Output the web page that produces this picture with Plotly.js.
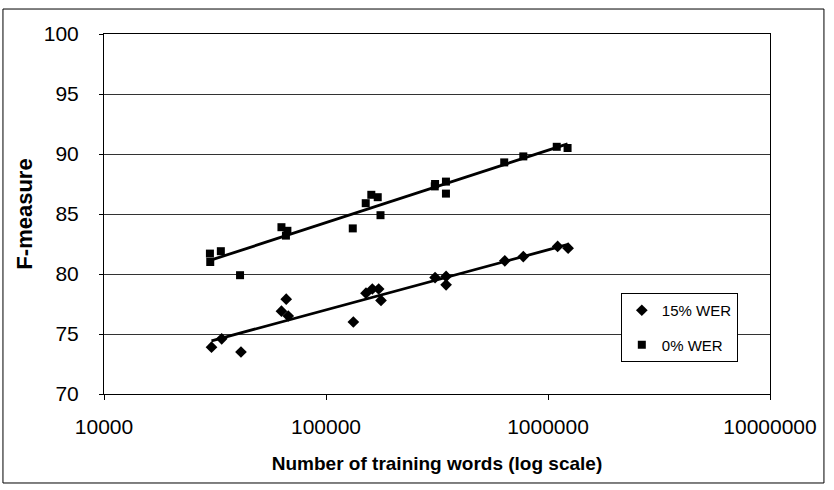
<!DOCTYPE html>
<html>
<head>
<meta charset="utf-8">
<script src="https://cdn.plot.ly/plotly-3.0.1.min.js"></script>
<style>html,body{margin:0;padding:0;background:#fff;}#chart{width:834px;height:490px;}</style>
</head>
<body>
<div id="chart"></div>
<script>
// 15% WER (diamonds)
const wer15Words = [30500, 33900, 41400, 63000, 66200, 67600, 132800, 151400, 161700, 172700, 176900, 310000, 347500, 347500, 639000, 774000, 1105000, 1232000];
const wer15F     = [73.9, 74.6, 73.5, 76.9, 77.9, 76.5, 76.0, 78.4, 78.75, 78.75, 77.8, 79.7, 79.8, 79.1, 81.1, 81.45, 82.3, 82.15];
// 0% WER (squares)
const wer0Words = [30000, 30100, 33600, 41000, 63000, 67000, 66000, 132000, 151000, 160000, 171000, 176000, 310000, 309000, 347000, 347000, 635000, 774000, 1095000, 1225000];
const wer0F     = [81.7, 81.0, 81.9, 79.9, 83.9, 83.6, 83.2, 83.8, 85.9, 86.6, 86.4, 84.9, 87.5, 87.3, 87.7, 86.7, 89.3, 89.8, 90.6, 90.5];

const seriesNames = ["15% WER", "0% WER"];
const yTicks = [70, 75, 80, 85, 90, 95, 100];
const xTicks = [10000, 100000, 1000000, 10000000];
const xTickText = ["10000", "100000", "1000000", "10000000"];

// logarithmic trendline (least squares on log10 x), like Excel
function trend(xs, ys) {
  const lx = xs.map(v => Math.log10(v));
  const n = lx.length;
  const mx = lx.reduce((a, b) => a + b, 0) / n;
  const my = ys.reduce((a, b) => a + b, 0) / n;
  let sxy = 0, sxx = 0;
  for (let i = 0; i < n; i++) { sxy += (lx[i] - mx) * (ys[i] - my); sxx += (lx[i] - mx) * (lx[i] - mx); }
  const b = sxy / sxx, a = my - b * mx;
  const x0 = Math.min(...xs), x1 = Math.max(...xs);
  return { x: [x0, x1], y: [a + b * Math.log10(x0), a + b * Math.log10(x1)] };
}
const t15 = trend(wer15Words, wer15F);
const t0 = trend(wer0Words, wer0F);

const font = "Liberation Sans, Arial, sans-serif";

const traces = [
  { x: t15.x, y: t15.y, mode: "lines", line: { color: "#000", width: 2.8 }, showlegend: false, hoverinfo: "skip" },
  { x: t0.x, y: t0.y, mode: "lines", line: { color: "#000", width: 2.8 }, showlegend: false, hoverinfo: "skip" },
  { x: wer15Words, y: wer15F, mode: "markers", name: seriesNames[0], legendgroup: "a",
    marker: { symbol: "diamond", size: 9, color: "#000" } },
  { x: wer0Words, y: wer0F, mode: "markers", name: seriesNames[1], legendgroup: "b",
    marker: { symbol: "square", size: 8, color: "#000" } }
];

const layout = {
  width: 834, height: 490,
  margin: { l: 104, r: 64, t: 34, b: 96 },
  paper_bgcolor: "#fff", plot_bgcolor: "#fff",
  font: { family: font, color: "#000", size: 21 },
  showlegend: true,
  legend: {
    x: 0.776, y: 0.2806, xanchor: "left", yanchor: "top",
    bgcolor: "#fff", bordercolor: "#000", borderwidth: 1,
    font: { family: font, size: 15, color: "#000" },
    traceorder: "grouped", tracegroupgap: 12
  },
  xaxis: {
    type: "log", range: [4, 7],
    tickvals: xTicks, ticktext: xTickText,
    ticks: "outside", ticklen: 5, tickcolor: "#000", ticklabelstandoff: 9,
    showline: true, linecolor: "#000", linewidth: 1, mirror: true,
    showgrid: false, zeroline: false,
    tickfont: { family: font, size: 21, color: "#000" },
    title: { text: "<b>Number of training words (log scale)</b>", font: { family: font, size: 19, color: "#000" }, standoff: 19 }
  },
  yaxis: {
    range: [70, 100], tickvals: yTicks,
    ticks: "outside", ticklen: 4, tickcolor: "#000", ticklabelstandoff: 16,
    showline: true, linecolor: "#000", linewidth: 1, mirror: true,
    showgrid: true, gridcolor: "#333", gridwidth: 1, zeroline: false,
    tickfont: { family: font, size: 21, color: "#000" },
    title: { text: "<b>F-measure</b>", font: { family: font, size: 22, color: "#000" }, standoff: 5 }
  },
  shapes: [
    { type: "rect", xref: "paper", yref: "paper", x0: -0.1517, x1: 1.081, y0: -0.2472, y1: 1.0694,
      line: { color: "#000", width: 1 }, fillcolor: "rgba(0,0,0,0)", layer: "below" }
  ]
};

Plotly.newPlot("chart", traces, layout, { staticPlot: true, displayModeBar: false });
</script>
</body>
</html>
